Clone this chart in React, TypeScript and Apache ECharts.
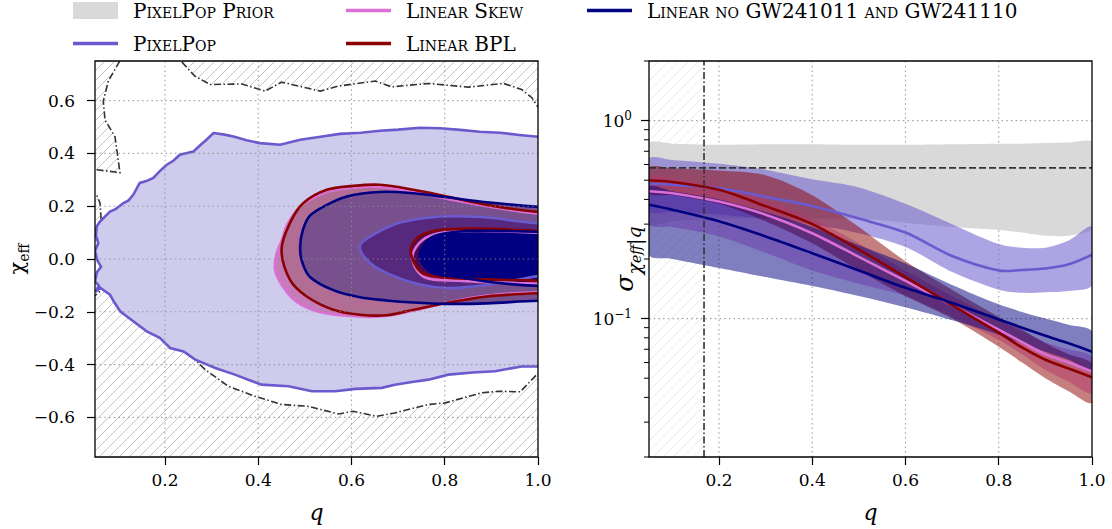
import React, { useEffect, useRef } from "react";
import * as echarts from "echarts";

type P = [number, number];

const FONT = "DejaVu Serif";
const C_PRIOR = "#d9d9d9";
const C_PP = "#6a5acd";
const C_SKEW = "#da70d6";
const C_BPL = "#8b0000";
const C_NAVY = "#000080";

const N_PRIOR = "PixelPop Prior";
const N_PP = "PixelPop";
const N_SKEW = "Linear Skew";
const N_BPL = "Linear BPL";
const N_NAVY = "Linear no GW241011 and GW241110";

// ---------- tick values ----------
const qTicks = [0.2, 0.4, 0.6, 0.8, 1.0];
const chiTicks = [-0.6, -0.4, -0.2, 0, 0.2, 0.4, 0.6];
const sigmaTicks = [0.1, 1];
const sigmaMinorTicks = [0.02, 0.03, 0.04, 0.05, 0.06, 0.07, 0.08, 0.09, 0.2, 0.3, 0.4, 0.5, 0.6, 0.7, 0.8, 0.9, 2];

// ---------- left panel: (q, chi_eff) contours ----------
const priorContour: P[] = [
  [0.107, 0.85], [0.107, 0.762], [0.0785, 0.674], [0.0678, 0.598], [0.0714, 0.527], [0.0929, 0.463],
  [0.1036, 0.327], [0.0543, 0.338], [0.02, 0.338], [0.02, 0.245], [0.0536, 0.243], [0.0607, 0.212],
  [0.0629, 0.156], [0.0607, 0.086], [0.0571, 0.035], [0.05, 0.016], [0.02, 0.016], [0.02, -0.139],
  [0.05, -0.139], [0.082, -0.09], [0.1, -0.098], [0.118, -0.154], [0.147, -0.199], [0.196, -0.298],
  [0.265, -0.381], [0.286, -0.419], [0.336, -0.482], [0.393, -0.52], [0.45, -0.551], [0.507, -0.558],
  [0.572, -0.587], [0.604, -0.577], [0.654, -0.596], [0.693, -0.583], [0.765, -0.551], [0.801, -0.545],
  [0.879, -0.507], [0.915, -0.501], [0.962, -0.503], [1.001, -0.431], [1.1, -0.4], [1.1, 0.55],
  [1.001, 0.573], [0.987, 0.611], [0.965, 0.642], [0.926, 0.665], [0.851, 0.651], [0.765, 0.665],
  [0.686, 0.652], [0.651, 0.674], [0.572, 0.655], [0.533, 0.636], [0.45, 0.67], [0.415, 0.636],
  [0.365, 0.663], [0.297, 0.661], [0.264, 0.693], [0.228, 0.762], [0.22, 0.85],
];

const ppOuter: P[] = [
  [0.0536, 0.123], [0.0607, 0.142], [0.0822, 0.18], [0.095, 0.19], [0.111, 0.212], [0.122, 0.222],
  [0.132, 0.243], [0.146, 0.288], [0.16, 0.295], [0.175, 0.307], [0.19, 0.335], [0.204, 0.357],
  [0.218, 0.372], [0.232, 0.395], [0.261, 0.407], [0.275, 0.43], [0.289, 0.452], [0.304, 0.477],
  [0.325, 0.472], [0.347, 0.464], [0.375, 0.45], [0.404, 0.439], [0.447, 0.433], [0.49, 0.452],
  [0.53, 0.462], [0.575, 0.474], [0.62, 0.478], [0.661, 0.486], [0.7, 0.49], [0.747, 0.497],
  [0.79, 0.495], [0.833, 0.489], [0.875, 0.482], [0.919, 0.478], [0.96, 0.47], [1.0, 0.463],
  [1.1, 0.46], [1.1, -0.405], [1.0, -0.407], [0.965, -0.407], [0.908, -0.425], [0.86, -0.43],
  [0.808, -0.438], [0.765, -0.457], [0.73, -0.466], [0.693, -0.476], [0.665, -0.488], [0.608, -0.492],
  [0.565, -0.501], [0.515, -0.501], [0.465, -0.482], [0.407, -0.476], [0.38, -0.458], [0.35, -0.438],
  [0.308, -0.413], [0.265, -0.381], [0.24, -0.35], [0.211, -0.337], [0.189, -0.299], [0.161, -0.274],
  [0.132, -0.236], [0.104, -0.198], [0.09, -0.16], [0.082, -0.135], [0.061, -0.109], [0.052, -0.124],
  [0.058, -0.1], [0.05, -0.085], [0.054, -0.05], [0.063, -0.03], [0.055, -0.005], [0.05, 0.03],
  [0.057, 0.06], [0.052, 0.09],
];
const ppInner: P[] = [
  [0.618, 0.048], [0.647, 0.092], [0.69, 0.13], [0.733, 0.149], [0.79, 0.161], [0.847, 0.161],
  [0.904, 0.155], [0.961, 0.142], [1.0, 0.136], [1.1, 0.134], [1.1, -0.064], [1.0, -0.066],
  [0.976, -0.072], [0.919, -0.091], [0.862, -0.104], [0.804, -0.11], [0.747, -0.097], [0.683, -0.059],
  [0.64, -0.015],
];
const skewOuter: P[] = [
  [0.44, 0.024], [0.451, 0.073], [0.462, 0.13], [0.49, 0.198], [0.543, 0.251], [0.603, 0.27],
  [0.661, 0.273], [0.732, 0.255], [0.805, 0.228], [0.891, 0.2], [1.0, 0.172], [1.1, 0.166],
  [1.1, -0.126], [1.0, -0.126], [0.891, -0.138], [0.805, -0.165], [0.732, -0.196], [0.661, -0.218],
  [0.582, -0.214], [0.526, -0.198], [0.483, -0.163], [0.453, -0.105], [0.436, -0.04],
];
const skewInner: P[] = [
  [0.731, -0.004], [0.745, 0.06], [0.78, 0.095], [0.84, 0.105], [0.92, 0.105], [1.0, 0.1],
  [1.1, 0.1], [1.1, -0.095], [1.0, -0.093], [0.9, -0.088], [0.831, -0.082], [0.757, -0.069],
];
const bplOuter: P[] = [
  [0.45, 0.035], [0.468, 0.136], [0.497, 0.212], [0.547, 0.262], [0.604, 0.277], [0.661, 0.281],
  [0.733, 0.262], [0.804, 0.237], [0.89, 0.205], [1.0, 0.178], [1.1, 0.172], [1.1, -0.128],
  [1.0, -0.13], [0.89, -0.142], [0.804, -0.167], [0.733, -0.192], [0.675, -0.213], [0.618, -0.211],
  [0.561, -0.192], [0.504, -0.142], [0.468, -0.078],
];
const bplInner: P[] = [
  [0.727, 0.029], [0.742, 0.081], [0.779, 0.107], [0.831, 0.114], [0.905, 0.114], [1.0, 0.107],
  [1.1, 0.106], [1.1, -0.084], [1.0, -0.082], [0.868, -0.076], [0.794, -0.069], [0.749, -0.05],
];
const navyOuter: P[] = [
  [0.49, 0.048], [0.496, 0.111], [0.511, 0.164], [0.547, 0.205], [0.59, 0.237], [0.661, 0.254],
  [0.733, 0.249], [0.804, 0.234], [0.89, 0.215], [1.0, 0.198], [1.1, 0.195], [1.1, -0.16],
  [1.0, -0.158], [0.89, -0.168], [0.804, -0.17], [0.733, -0.165], [0.675, -0.157], [0.618, -0.145],
  [0.561, -0.118], [0.511, -0.068], [0.494, -0.01],
];
const navyInner: P[] = [
  [0.746, 0.016], [0.771, 0.081], [0.831, 0.104], [0.905, 0.107], [1.0, 0.103], [1.1, 0.103],
  [1.1, -0.104], [1.0, -0.102], [0.905, -0.089], [0.831, -0.069], [0.771, -0.05],
];

// ---------- right panel: sigma(chi_eff | q) ----------
const qGrid = [0.05, 0.1, 0.2, 0.3, 0.4, 0.5, 0.6, 0.7, 0.8, 0.85, 0.9, 0.95, 1.0];
const priorHigh = [0.77, 0.765, 0.755, 0.76, 0.76, 0.755, 0.755, 0.76, 0.765, 0.765, 0.77, 0.775, 0.78];
const priorLow = [0.3, 0.31, 0.32, 0.32, 0.32, 0.32, 0.305, 0.29, 0.28, 0.272, 0.262, 0.262, 0.285];
const ppHigh = [0.64, 0.632, 0.605, 0.565, 0.505, 0.46, 0.38, 0.3, 0.238, 0.228, 0.228, 0.248, 0.29];
const ppMed = [0.48, 0.475, 0.455, 0.412, 0.37, 0.32, 0.272, 0.207, 0.175, 0.176, 0.179, 0.188, 0.21];
const ppLow = [0.35, 0.345, 0.335, 0.32, 0.3, 0.27, 0.23, 0.172, 0.14, 0.135, 0.136, 0.138, 0.148];
const skewHigh = [0.52, 0.51, 0.47, 0.4, 0.32, 0.24, 0.175, 0.13, 0.098, 0.086, 0.076, 0.07, 0.064];
const skewMed = [0.44, 0.43, 0.39, 0.335, 0.27, 0.205, 0.155, 0.117, 0.088, 0.076, 0.066, 0.06, 0.054];
const skewLow = [0.3, 0.29, 0.26, 0.215, 0.175, 0.15, 0.13, 0.102, 0.078, 0.066, 0.055, 0.048, 0.042];
const bplHigh = [0.58, 0.575, 0.56, 0.53, 0.42, 0.29, 0.195, 0.14, 0.102, 0.088, 0.075, 0.066, 0.059];
const bplMed = [0.5, 0.49, 0.447, 0.37, 0.3, 0.223, 0.162, 0.117, 0.085, 0.0715, 0.062, 0.056, 0.0505];
const bplLow = [0.43, 0.42, 0.38, 0.31, 0.24, 0.175, 0.13, 0.1, 0.072, 0.06, 0.05, 0.043, 0.0376];
const navyHigh = [0.46, 0.44, 0.4, 0.345, 0.29, 0.235, 0.19, 0.148, 0.118, 0.108, 0.1, 0.093, 0.086];
const navyMed = [0.376, 0.355, 0.31, 0.26, 0.214, 0.175, 0.143, 0.12, 0.099, 0.09, 0.082, 0.075, 0.068];
const navyLow = [0.21, 0.2, 0.18, 0.162, 0.146, 0.13, 0.114, 0.098, 0.083, 0.075, 0.068, 0.062, 0.056];
const priorSigma = 0.577;
const qCut = 0.168;

// ---------- helpers ----------
const zip = (ys: number[]): P[] => qGrid.map((q, i) => [q, ys[i]]);
const band = (lo: number[], hi: number[]): P[] => [...zip(hi), ...zip(lo).reverse()];

const polyR = (pts: P[], style: any, smooth = 0) => (_p: any, api: any) => ({
  type: "polygon",
  shape: { points: pts.map((p) => api.coord(p)), smooth },
  style,
});
const lineR = (pts: P[], style: any, smooth = 0) => (_p: any, api: any) => ({
  type: "polyline",
  shape: { points: pts.map((p) => api.coord(p)), smooth },
  style: { fill: "none", ...style },
});
const hatchR = (xFrom: number, xTo: number, yRef: number, color: string, step: number) => (params: any, api: any) => {
  const cs = params.coordSys;
  const x1 = api.coord([xFrom, yRef])[0];
  const x2 = api.coord([xTo, yRef])[0];
  const y1 = cs.y;
  const y2 = cs.y + cs.height;
  const children: any[] = [];
  for (let c = x1 + y1; c <= x2 + y2 + step; c += step) {
    const xs = Math.max(x1, c - y2);
    const xe = Math.min(x2, c - y1);
    if (xe <= xs) continue;
    children.push({ type: "line", shape: { x1: xs, y1: c - xs, x2: xe, y2: c - xe }, style: { stroke: color, lineWidth: 1 } });
  }
  return { type: "group", children };
};
const gridR = (xs: number[], ys: number[], yRef: number, xRef: number, color: string) => (params: any, api: any) => {
  const cs = params.coordSys;
  const children: any[] = [];
  xs.forEach((x) => {
    const px = api.coord([x, yRef])[0];
    children.push({ type: "line", shape: { x1: px, y1: cs.y, x2: px, y2: cs.y + cs.height }, style: { stroke: color, lineWidth: 1.1, lineDash: [1.5, 3.2] } });
  });
  ys.forEach((y) => {
    const py = api.coord([xRef, y])[1];
    children.push({ type: "line", shape: { x1: cs.x, y1: py, x2: cs.x + cs.width, y2: py }, style: { stroke: color, lineWidth: 1.1, lineDash: [1.5, 3.2] } });
  });
  return { type: "group", children };
};

let zc = 2;
const cs = (name: string | undefined, ax: number, render: any, color?: string, clip = true) => ({
  type: "custom",
  name,
  xAxisIndex: ax,
  yAxisIndex: ax,
  z: zc++,
  clip,
  silent: true,
  data: [[0.5, ax === 0 ? 0 : 0.1]],
  itemStyle: color ? { color } : undefined,
  renderItem: render,
});

function buildOption() {
  zc = 2;
  const S = 0.35;
  const leftFills: [P[], string, string][] = [
    [ppOuter, "#cfcbec", N_PP],
    [skewOuter, "#c77cba", N_SKEW],
    [bplOuter, "#b16d94", N_BPL],
    [navyOuter, "#78508e", N_NAVY],
    [ppInner, "#56287e", N_PP],
    [skewInner, "#7a2a80", N_SKEW],
    [bplInner, "#4a0a55", N_BPL],
    [navyInner, "#000080", N_NAVY],
  ];
  const lineColor: Record<string, string> = { [N_PP]: C_PP, [N_SKEW]: C_SKEW, [N_BPL]: C_BPL, [N_NAVY]: C_NAVY };
  const series: any[] = [];
  // left panel
  series.push(cs(N_PRIOR, 0, hatchR(0.05, 1.0, 0, "#c4c4c4", 10), C_PRIOR));
  series.push(cs(N_PRIOR, 0, polyR(priorContour, { fill: "#fff", stroke: "#333", lineWidth: 1.6, lineDash: [7, 2.5, 1.5, 2.5] }), C_PRIOR));
  leftFills.forEach(([pts, fill, n]) => {
    const jag = pts === ppOuter;
    series.push(cs(n, 0, polyR(pts, { fill }, jag ? 0 : S), lineColor[n]));
  });
  leftFills.forEach(([pts, , n]) => {
    const jag = pts === ppOuter;
    series.push(cs(n, 0, polyR(pts, { fill: "none", stroke: lineColor[n], lineWidth: 2.6 }, jag ? 0 : S), lineColor[n]));
  });
  series.push(cs(undefined, 0, gridR([0.2, 0.4, 0.6, 0.8], chiTicks, 0, 0.5, "rgba(140,140,140,0.8)")));

  // right panel
  series.push(cs(N_PRIOR, 1, hatchR(0.05, qCut, 1, "#ebebeb", 10), C_PRIOR));
  series.push(cs(undefined, 1, gridR([0.2, 0.4, 0.6, 0.8], sigmaTicks, 1, 0.5, "rgba(150,150,150,0.9)")));
  series.push(cs(N_PRIOR, 1, polyR(band(priorLow, priorHigh), { fill: C_PRIOR }, 0.2), C_PRIOR));
  series.push(cs(N_PP, 1, polyR(band(ppLow, ppHigh), { fill: "rgba(106,90,205,0.55)" }, 0.3), C_PP));
  series.push(cs(N_SKEW, 1, polyR(band(skewLow, skewHigh), { fill: "rgba(218,112,214,0.5)" }, 0.3), C_SKEW));
  series.push(cs(N_BPL, 1, polyR(band(bplLow, bplHigh), { fill: "rgba(139,0,0,0.5)" }, 0.3), C_BPL));
  series.push(cs(N_NAVY, 1, polyR(band(navyLow, navyHigh), { fill: "rgba(0,0,128,0.5)" }, 0.3), C_NAVY));
  series.push(cs(N_PP, 1, lineR(zip(ppMed), { stroke: C_PP, lineWidth: 2.6 }, 0.3), C_PP));
  series.push(cs(N_SKEW, 1, lineR(zip(skewMed), { stroke: C_SKEW, lineWidth: 2.6 }, 0.3), C_SKEW));
  series.push(cs(N_BPL, 1, lineR(zip(bplMed), { stroke: C_BPL, lineWidth: 2.6 }, 0.3), C_BPL));
  series.push(cs(N_NAVY, 1, lineR(zip(navyMed), { stroke: C_NAVY, lineWidth: 2.6 }, 0.3), C_NAVY));
  series.push(cs(undefined, 1, lineR([[0.05, priorSigma], [1.0, priorSigma]], { stroke: "#333", lineWidth: 1.6, lineDash: [7, 3] })));
  series.push(cs(undefined, 1, lineR([[qCut, 0.02], [qCut, 2]], { stroke: "#333", lineWidth: 1.6, lineDash: [7, 2.5, 1.5, 2.5] })));
  series.push(
    cs(undefined, 1, (params: any, api: any) => {
      const c = params.coordSys;
      return {
        type: "group",
        children: sigmaMinorTicks.map((v) => {
          const py = api.coord([0.5, v])[1];
          return { type: "line", shape: { x1: c.x - 5, y1: py, x2: c.x, y2: py }, style: { stroke: "#000", lineWidth: 1 } };
        }),
      };
    }, undefined, false)
  );

  const tickLabel = { fontFamily: FONT, fontSize: 17, color: "#000" };
  const xAxisBase = (gi: number) => ({
    gridIndex: gi,
    type: "value",
    min: 0.05,
    max: 1.0,
    z: 60,
    axisLine: { show: false, onZero: false },
    axisTick: { show: true, customValues: qTicks, length: 8, lineStyle: { color: "#000", width: 1.2 } },
    axisLabel: { ...tickLabel, customValues: qTicks, margin: 14, formatter: (v: number) => v.toFixed(1) },
    splitLine: { show: false },
    name: "q",
    nameLocation: "middle",
    nameGap: 44,
    nameMoveOverlap: false,
    nameTextStyle: { fontFamily: FONT, fontStyle: "italic", fontSize: 22, color: "#000" },
  });

  const legendBase = {
    orient: "vertical",
    top: 1,
    padding: 0,
    itemWidth: 45,
    itemHeight: 17,
    itemGap: 14,
    selectedMode: false,
    itemStyle: { borderWidth: 0 },
    textStyle: {
      fontFamily: FONT + ";font-variant:small-caps",
      fontSize: 20,
      color: "#000",
      lineHeight: 18,
      padding: [0, 0, 0, 10],
    },
  };
  const lineIcon = "path://M0,0H45V3.5H0Z";

  return {
    animation: false,
    backgroundColor: "#fff",
    legend: [
      {
        ...legendBase,
        left: 73,
        data: [
          { name: N_PRIOR, icon: "rect", itemStyle: { color: C_PRIOR } },
          { name: N_PP, icon: lineIcon, itemStyle: { color: C_PP } },
        ],
      },
      {
        ...legendBase,
        left: 346,
        data: [
          { name: N_SKEW, icon: lineIcon, itemStyle: { color: C_SKEW } },
          { name: N_BPL, icon: lineIcon, itemStyle: { color: C_BPL } },
        ],
      },
      {
        ...legendBase,
        left: 587,
        data: [{ name: N_NAVY, icon: lineIcon, itemStyle: { color: C_NAVY } }],
      },
    ],
    grid: [
      { left: 95, top: 61, width: 443, height: 396, show: true, borderColor: "#000", borderWidth: 1.3, backgroundColor: "transparent", z: 50 },
      { left: 649, top: 61, width: 443, height: 396, show: true, borderColor: "#000", borderWidth: 1.3, backgroundColor: "transparent", z: 50 },
    ],
    xAxis: [xAxisBase(0), xAxisBase(1)],
    yAxis: [
      {
        gridIndex: 0,
        type: "value",
        min: -0.75,
        max: 0.75,
        z: 60,
        axisLine: { show: false, onZero: false },
        axisTick: { show: true, customValues: chiTicks, length: 8, lineStyle: { color: "#000", width: 1.2 } },
        axisLabel: {
          ...tickLabel,
          customValues: chiTicks,
          margin: 20,
          formatter: (v: number) => (v < -1e-9 ? "\u2212" : "") + Math.abs(v).toFixed(1),
        },
        splitLine: { show: false },
        name: "χ{sub|eff}",
        nameLocation: "middle",
        nameRotate: 90,
        nameGap: 64,
        nameMoveOverlap: false,
        nameTextStyle: {
          fontFamily: FONT,
          fontSize: 21,
          color: "#000",
          lineHeight: 28,
          rich: { sub: { fontFamily: FONT, fontSize: 14, verticalAlign: "bottom", lineHeight: 13, color: "#000" } },
        },
      },
      {
        gridIndex: 1,
        type: "log",
        logBase: 10,
        min: 0.02,
        max: 2,
        z: 60,
        axisLine: { show: false, onZero: false },
        axisTick: { show: true, customValues: sigmaTicks, length: 8, lineStyle: { color: "#000", width: 1.2 } },
        axisLabel: {
          ...tickLabel,
          customValues: sigmaTicks,
          margin: 17,
          lineHeight: 22,
          formatter: (v: number) => (v > 0.5 ? "10{sup|0}" : "10{sup|\u22121}"),
          rich: { sup: { fontFamily: FONT, fontSize: 12, verticalAlign: "top", lineHeight: 11, color: "#000" } },
        },
        splitLine: { show: false },
        minorTick: { show: false },
        name: "σ{s|χ}{ss|eff}{s||}{si|q}",
        nameLocation: "middle",
        nameRotate: 90,
        nameGap: 6,
        nameMoveOverlap: false,
        nameTextStyle: {
          fontFamily: FONT,
          fontStyle: "italic",
          fontSize: 25,
          color: "#000",
          lineHeight: 38,
          rich: {
            s: { fontFamily: FONT, fontSize: 19, verticalAlign: "bottom", lineHeight: 22, color: "#000" },
            ss: { fontFamily: FONT, fontSize: 14, verticalAlign: "bottom", lineHeight: 11, color: "#000" },
            si: { fontFamily: FONT, fontStyle: "italic", fontSize: 19, verticalAlign: "bottom", lineHeight: 22, color: "#000" },
          },
        },
      },
    ],
    series,
  };
}

export default function App() {
  const ref = useRef<HTMLDivElement>(null);
  useEffect(() => {
    const chart = echarts.init(ref.current!, null, { renderer: "svg" });
    chart.setOption(buildOption() as any);
    return () => chart.dispose();
  }, []);
  return (
    <div
      ref={ref}
      style={{ position: "fixed", left: 0, top: 0, width: 1112, height: 529, background: "#fff" }}
    />
  );
}
